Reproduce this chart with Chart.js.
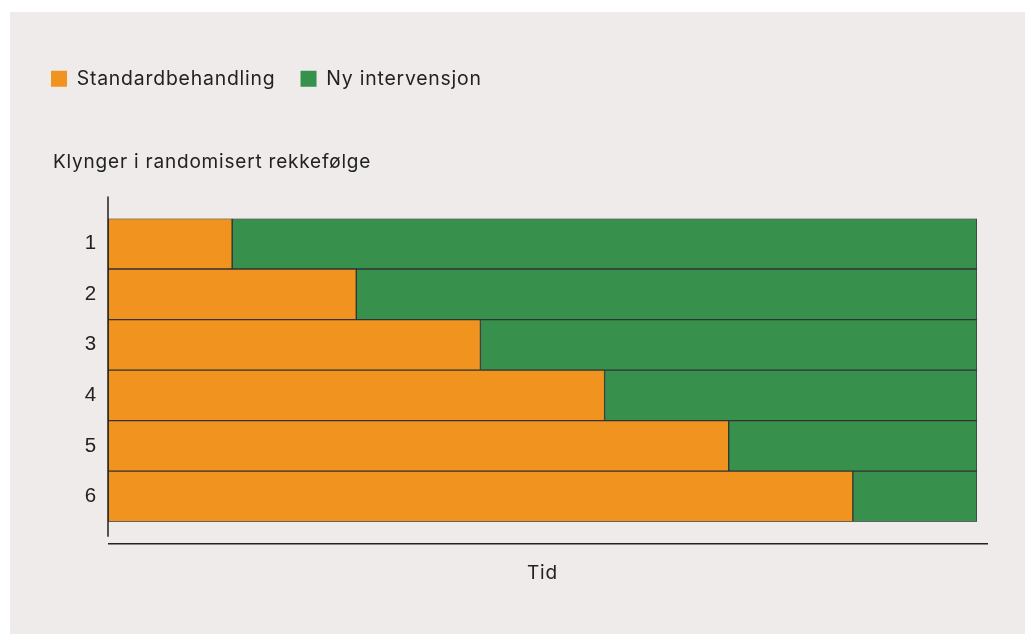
<!DOCTYPE html>
<html>
<head>
<meta charset="utf-8">
<script src="https://cdn.jsdelivr.net/npm/chart.js@4"></script>
<style>
  html, body { margin: 0; padding: 0; background: #ffffff; }
  #wrap { position: absolute; left: 10px; top: 12px; width: 1015px; height: 622px; background: #eeebea; }
  canvas { display: block; }
</style>
</head>
<body>
<div id="wrap"><canvas id="c" width="1015" height="622"></canvas></div>
<script>
const clusters = ['1', '2', '3', '4', '5', '6'];
const standardPeriods = [1, 2, 3, 4, 5, 6];
const interventionPeriods = [6, 5, 4, 3, 2, 1];
const seriesNames = ['Standardbehandling', 'Ny intervensjon'];
const titleText = 'Klynger i randomisert rekkefølge';
const xTitleText = 'Tid';
const totalPeriods = 7;

const FONT = 'Inter, "Liberation Sans", Arial, sans-serif';
const TEXT = '#222222';
const SPACING = '0.8px';

const axisLines = {
  id: 'axisLines',
  beforeLayout(chart) { chart.ctx.letterSpacing = SPACING; },
  afterLayout(chart) {
    if (chart.titleBlock) { chart.titleBlock.left += 27; chart.titleBlock.right += 27; }
  },
  beforeDraw(chart) { chart.ctx.letterSpacing = SPACING; },
  afterDatasetsDraw(chart) {
    const {ctx, chartArea: a} = chart;
    ctx.save();
    ctx.strokeStyle = '#222222';
    ctx.lineWidth = 1.5;
    ctx.beginPath();
    ctx.moveTo(a.left, a.top - 22);
    ctx.lineTo(a.left, a.bottom + 15);
    ctx.moveTo(a.left, a.bottom + 22);
    ctx.lineTo(a.right + 11, a.bottom + 22);
    ctx.stroke();
    ctx.restore();
  }
};

new Chart(document.getElementById('c'), {
  type: 'bar',
  data: {
    labels: clusters,
    datasets: [
      { label: seriesNames[0], data: standardPeriods, backgroundColor: '#f0931f', borderColor: '#333333', borderWidth: 1, borderSkipped: false },
      { label: seriesNames[1], data: interventionPeriods, backgroundColor: '#37904c', borderColor: '#333333', borderWidth: 1, borderSkipped: false }
    ]
  },
  options: {
    indexAxis: 'y',
    responsive: false,
    animation: false,
    devicePixelRatio: 1,
    layout: { padding: { left: 16, right: 48, top: 32, bottom: 49 } },
    datasets: { bar: { categoryPercentage: 1, barPercentage: 1 } },
    plugins: {
      legend: {
        position: 'top', align: 'start', weight: 3000,
        labels: {
          boxWidth: 16, boxHeight: 16, padding: 25, color: TEXT, font: { family: FONT, size: 19.4 },
          generateLabels(chart) {
            return Chart.defaults.plugins.legend.labels.generateLabels(chart).map(it => ({ ...it, strokeStyle: it.fillStyle, lineWidth: 0 }));
          }
        }
      },
      title: {
        display: true, text: titleText, align: 'start', color: TEXT,
        font: { family: FONT, size: 19, weight: 'normal' },
        padding: { top: 52, bottom: 45.3 }
      },
      tooltip: { enabled: false }
    },
    scales: {
      x: {
        stacked: true, min: 0, max: totalPeriods,
        grid: { display: false, drawTicks: false }, border: { display: false },
        ticks: { display: false },
        title: { display: true, text: xTitleText, color: TEXT, font: { family: FONT, size: 19 }, padding: { top: 40.5, bottom: 0 } }
      },
      y: {
        stacked: true,
        grid: { display: false, drawTicks: false }, border: { display: false },
        ticks: { color: TEXT, padding: 11, font: { family: '"Liberation Sans", Arial, sans-serif', size: 20.5 } },
        afterFit(scale) { scale.width = 82; }
      }
    }
  },
  plugins: [axisLines]
});
</script>
</body>
</html>
